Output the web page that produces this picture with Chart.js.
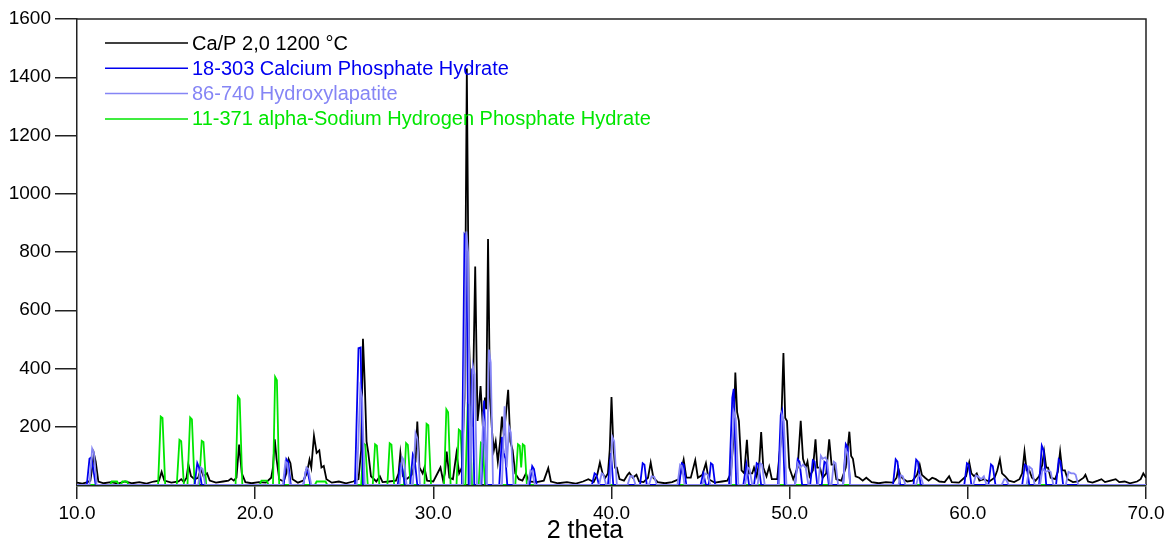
<!DOCTYPE html>
<html>
<head>
<meta charset="utf-8">
<script src="https://cdn.jsdelivr.net/npm/chart.js@4/dist/chart.umd.min.js"></script>
<style>
  html, body { margin: 0; padding: 0; background: #fff; }
  #wrap { width: 1169px; height: 542px; }
</style>
</head>
<body>
<div id="wrap"><canvas id="xrd"></canvas></div>
<script>
// [2 theta, counts]
var sampleScan = [[10.0,8],[10.3,5],[10.6,10],[10.75,15],[10.88,70],[10.95,107],[11.05,80],[11.2,12],[11.5,6],[11.9,10],[12.3,5],[12.7,12],[13.1,6],[13.5,10],[13.9,5],[14.3,12],[14.6,15],[14.75,45],[14.9,15],[15.3,8],[15.7,12],[15.85,20],[16.0,10],[16.15,25],[16.25,71],[16.4,30],[16.6,20],[16.8,25],[16.95,55],[17.1,30],[17.3,40],[17.45,15],[17.8,8],[18.2,12],[18.5,15],[18.65,22],[18.8,15],[18.95,25],[19.1,139],[19.25,40],[19.45,10],[19.8,6],[20.2,10],[20.6,8],[20.9,25],[21.0,60],[21.1,157],[21.2,90],[21.35,20],[21.6,12],[21.75,40],[21.88,89],[21.98,75],[22.1,20],[22.4,8],[22.7,15],[22.9,40],[23.05,87],[23.15,60],[23.3,169],[23.45,110],[23.6,119],[23.72,60],[23.85,65],[24.0,20],[24.3,8],[24.7,12],[25.1,6],[25.5,12],[25.8,20],[25.95,120],[26.05,502],[26.15,350],[26.25,150],[26.35,110],[26.5,30],[26.8,12],[27.0,30],[27.15,10],[27.5,12],[27.9,15],[28.05,40],[28.15,110],[28.3,30],[28.5,20],[28.8,35],[28.9,60],[29.0,80],[29.1,218],[29.22,60],[29.4,40],[29.5,60],[29.65,15],[30.0,12],[30.4,60],[30.55,15],[30.65,40],[30.75,115],[30.9,25],[31.1,20],[31.3,110],[31.45,40],[31.6,60],[31.75,300],[31.88,1430],[32.0,500],[32.15,200],[32.25,400],[32.35,750],[32.48,220],[32.55,260],[32.65,340],[32.78,200],[32.9,300],[32.97,260],[33.07,845],[33.18,300],[33.3,180],[33.4,120],[33.5,150],[33.62,80],[33.75,150],[33.85,235],[33.96,170],[34.1,260],[34.2,327],[34.32,150],[34.45,120],[34.6,40],[34.8,20],[35.0,15],[35.2,40],[35.35,12],[35.8,10],[36.2,15],[36.45,58],[36.6,12],[37.0,6],[37.5,10],[38.0,5],[38.4,12],[38.7,20],[39.0,10],[39.2,35],[39.35,77],[39.5,40],[39.65,25],[39.8,40],[39.9,120],[40.0,302],[40.1,140],[40.2,60],[40.3,60],[40.45,20],[40.7,15],[40.9,35],[41.0,42],[41.2,25],[41.4,35],[41.55,12],[41.8,10],[42.05,25],[42.2,77],[42.35,25],[42.6,10],[43.0,6],[43.4,10],[43.8,20],[43.95,60],[44.05,87],[44.2,25],[44.45,25],[44.7,85],[44.85,25],[45.1,35],[45.3,75],[45.45,20],[45.8,8],[46.2,12],[46.5,15],[46.7,40],[46.85,160],[46.95,386],[47.05,250],[47.15,220],[47.3,50],[47.45,40],[47.6,155],[47.72,40],[47.9,40],[48.0,60],[48.15,30],[48.3,80],[48.4,182],[48.52,60],[48.7,30],[48.85,63],[49.0,20],[49.3,20],[49.5,150],[49.65,453],[49.75,230],[49.85,220],[49.98,60],[50.2,20],[50.45,60],[50.62,220],[50.75,90],[50.9,60],[51.0,80],[51.12,30],[51.3,50],[51.45,157],[51.55,60],[51.7,60],[51.85,25],[52.05,40],[52.22,157],[52.35,70],[52.5,70],[52.62,20],[52.9,15],[53.15,60],[53.35,183],[53.45,100],[53.55,90],[53.7,30],[53.9,25],[54.1,15],[54.3,25],[54.6,10],[55.0,6],[55.4,10],[55.8,8],[56.0,25],[56.1,57],[56.22,30],[56.4,20],[56.6,12],[56.9,15],[57.15,35],[57.3,69],[57.42,35],[57.6,25],[57.8,15],[58.0,25],[58.2,20],[58.4,12],[58.7,10],[58.95,30],[59.1,10],[59.5,8],[59.9,30],[60.08,78],[60.2,40],[60.35,30],[60.5,40],[60.65,15],[60.9,20],[61.2,12],[61.5,25],[61.65,50],[61.8,88],[61.92,40],[62.1,30],[62.3,15],[62.6,10],[62.9,20],[63.05,40],[63.18,115],[63.3,50],[63.45,50],[63.6,25],[63.8,15],[64.0,30],[64.15,60],[64.28,115],[64.4,60],[64.5,60],[64.65,25],[64.9,20],[65.05,45],[65.18,115],[65.3,50],[65.45,50],[65.6,20],[65.9,10],[66.2,12],[66.5,25],[66.6,35],[66.75,12],[67.0,8],[67.3,15],[67.5,20],[67.7,10],[68.0,15],[68.3,20],[68.5,10],[68.8,12],[69.1,6],[69.5,12],[69.7,20],[69.85,40],[70.0,25]];

var card18303 = [[10.0,0],[10.55,0],[10.7,90],[10.8,95],[10.9,60],[11.05,0],[16.6,0],[16.75,75],[16.85,60],[17.0,0],[21.6,0],[21.75,89],[21.85,80],[22.0,0],[22.7,0],[22.85,50],[22.95,45],[23.1,0],[25.6,0],[25.8,470],[25.92,472],[26.05,0],[28.0,0],[28.15,70],[28.25,60],[28.4,0],[28.7,0],[28.85,105],[28.95,90],[29.1,0],[31.6,0],[31.75,860],[31.85,850],[31.98,0],[32.05,0],[32.18,400],[32.3,0],[32.7,0],[32.85,290],[32.98,0],[33.7,0],[33.85,165],[33.95,110],[34.05,90],[34.15,0],[35.4,0],[35.55,65],[35.65,55],[35.8,0],[38.9,0],[39.05,40],[39.15,35],[39.3,0],[39.8,0],[39.97,110],[40.1,0],[41.6,0],[41.75,75],[41.85,70],[41.98,0],[43.8,0],[43.95,75],[44.05,70],[44.2,0],[45.0,0],[45.15,40],[45.3,0],[45.45,0],[45.58,75],[45.68,70],[45.82,0],[46.6,0],[46.78,300],[46.86,330],[47.0,0],[47.4,0],[47.57,70],[47.72,0],[48.0,0],[48.15,75],[48.25,70],[48.4,0],[49.35,0],[49.5,240],[49.58,255],[49.72,0],[50.3,0],[50.45,88],[50.55,80],[50.7,0],[51.15,0],[51.3,85],[51.4,80],[51.55,0],[51.8,0],[51.95,80],[52.05,75],[52.2,0],[53.0,0],[53.15,140],[53.25,130],[53.4,0],[55.8,0],[55.95,88],[56.05,80],[56.2,0],[56.95,0],[57.1,87],[57.2,80],[57.35,0],[59.8,0],[59.95,75],[60.05,70],[60.2,0],[61.15,0],[61.3,71],[61.4,65],[61.55,0],[63.05,0],[63.2,70],[63.3,65],[63.45,0],[64.0,0],[64.15,135],[64.25,120],[64.4,0],[64.95,0],[65.1,88],[65.2,80],[65.35,0],[70.0,0]];

var card86740 = [[10.0,0],[10.7,0],[10.85,125],[10.95,110],[11.1,0],[16.8,0],[16.95,60],[17.05,55],[17.2,0],[21.55,0],[21.7,80],[21.8,75],[21.95,0],[22.7,0],[22.88,60],[22.98,55],[23.15,0],[25.7,0],[25.9,330],[26.0,300],[26.15,0],[28.1,0],[28.25,95],[28.35,85],[28.5,0],[28.85,0],[29.0,178],[29.1,160],[29.25,0],[31.65,0],[31.85,870],[31.95,800],[32.08,0],[32.1,0],[32.22,410],[32.32,380],[32.45,0],[32.65,0],[32.8,230],[32.9,200],[33.0,0],[33.12,465],[33.22,420],[33.35,0],[33.85,0],[34.0,270],[34.12,60],[34.25,200],[34.35,180],[34.5,0],[35.3,0],[35.45,50],[35.55,45],[35.7,0],[39.3,0],[39.45,40],[39.55,35],[39.7,0],[39.9,0],[40.05,165],[40.15,150],[40.3,0],[40.9,0],[41.05,30],[41.2,30],[41.35,0],[42.1,0],[42.25,30],[42.4,28],[42.55,0],[43.7,0],[43.85,70],[43.95,65],[44.1,0],[45.1,0],[45.25,40],[45.4,35],[45.55,0],[46.7,0],[46.87,250],[46.97,230],[47.12,0],[47.5,0],[47.65,60],[47.75,55],[47.9,0],[48.2,0],[48.35,75],[48.45,70],[48.6,0],[49.4,0],[49.57,240],[49.67,220],[49.82,0],[50.3,0],[50.45,75],[50.6,60],[50.75,70],[50.9,60],[51.05,0],[51.6,0],[51.75,100],[51.85,90],[52.0,95],[52.1,85],[52.25,0],[52.35,0],[52.48,80],[52.58,75],[52.72,0],[53.0,0],[53.15,120],[53.25,110],[53.4,0],[56.1,0],[56.25,34],[56.35,30],[56.5,0],[57.1,0],[57.25,35],[57.35,30],[57.5,0],[60.3,0],[60.45,33],[60.6,28],[60.75,20],[60.9,30],[61.05,0],[61.9,0],[62.05,20],[62.15,18],[62.3,0],[63.3,0],[63.45,63],[63.6,55],[63.75,0],[64.05,0],[64.2,57],[64.35,45],[64.55,50],[64.65,45],[64.8,0],[65.5,0],[65.65,45],[65.8,40],[65.95,40],[66.05,35],[66.2,0],[70.0,0]];

var card11371 = [[10.0,0],[11.85,0],[11.95,12],[12.25,12],[12.35,0],[12.45,0],[12.55,12],[12.8,12],[12.9,0],[14.55,0],[14.7,235],[14.8,230],[14.95,0],[15.6,0],[15.75,155],[15.85,150],[16.0,0],[16.2,0],[16.35,232],[16.45,225],[16.6,0],[16.85,0],[17.0,152],[17.1,148],[17.25,0],[18.9,0],[19.03,304],[19.13,295],[19.28,0],[20.25,0],[20.35,15],[20.65,15],[20.75,0],[21.0,0],[21.12,371],[21.22,360],[21.35,0],[23.35,0],[23.45,12],[23.95,12],[24.05,0],[25.95,0],[26.08,143],[26.18,138],[26.32,0],[26.6,0],[26.73,140],[26.83,135],[26.97,0],[27.42,0],[27.55,143],[27.65,138],[27.8,0],[28.35,0],[28.47,144],[28.57,138],[28.72,0],[29.5,0],[29.62,210],[29.72,205],[29.87,0],[30.6,0],[30.73,260],[30.83,250],[30.97,0],[31.3,0],[31.43,190],[31.53,185],[31.67,0],[31.8,0],[31.93,277],[32.03,270],[32.17,0],[32.55,0],[32.67,145],[32.77,140],[32.9,0],[34.6,0],[34.75,140],[34.85,135],[34.93,60],[35.02,140],[35.12,135],[35.25,0],[70.0,0]];

var names = ["Ca/P 2,0 1200 \u00b0C", "18-303 Calcium Phosphate Hydrate", "86-740 Hydroxylapatite", "11-371 alpha-Sodium Hydrogen Phosphate Hydrate"];
var colors = ["#000000", "#0000f0", "#8585f5", "#00e600"];
var thetaTicks = [10, 20, 30, 40, 50, 60, 70];
var countTicks = [200, 400, 600, 800, 1000, 1200, 1400, 1600];
var xTitle = "2 theta";

var FONT = "'Liberation Sans', Arial, sans-serif";

function toXY(pairs) {
  return pairs.map(function (p) { return { x: p[0], y: p[1] }; });
}

var scans = [sampleScan, card18303, card86740, card11371];
var drawOrder = [4, 2, 1, 3]; // higher = further back

var frame = {
  id: 'frame',
  beforeDatasetsDraw: function (chart) {
    var a = chart.chartArea, c = chart.ctx;
    c.save();
    c.strokeStyle = '#222';
    c.lineWidth = 1.5;
    c.beginPath();
    c.moveTo(a.left, a.top);
    c.lineTo(a.right, a.top);
    c.lineTo(a.right, a.bottom);
    c.stroke();
    c.restore();
  },
  afterDraw: function (chart) {
    var c = chart.ctx;
    c.save();
    c.font = '20px ' + FONT;
    c.textBaseline = 'middle';
    for (var i = 0; i < names.length; i++) {
      var y = 43 + i * 25.3;
      c.strokeStyle = colors[i];
      c.lineWidth = 1.5;
      c.beginPath();
      c.moveTo(105, y);
      c.lineTo(188, y);
      c.stroke();
      c.fillStyle = colors[i];
      c.fillText(names[i], 192, y + 1);
    }
    // axis title sits a bit left of centre in the original
    c.font = '25px ' + FONT;
    c.fillStyle = '#000';
    c.textAlign = 'center';
    c.textBaseline = 'alphabetic';
    c.fillText(xTitle, 585, 538);
    c.restore();
  }
};

new Chart(document.getElementById('xrd'), {
  type: 'line',
  data: {
    datasets: scans.map(function (s, i) {
      return {
        label: names[i],
        data: toXY(s),
        borderColor: colors[i],
        borderWidth: 1.8,
        pointRadius: 0,
        tension: 0,
        fill: false,
        order: drawOrder[i]
      };
    })
  },
  options: {
    responsive: true,
    maintainAspectRatio: false,
    animation: false,
    layout: { padding: { top: 19, right: 23, left: 0, bottom: 0 } },
    plugins: { legend: { display: false }, tooltip: { enabled: false } },
    scales: {
      x: {
        type: 'linear',
        min: 10, max: 70,
        afterFit: function (s) { s.height = 57; },
        afterBuildTicks: function (s) { s.ticks = thetaTicks.map(function (v) { return { value: v }; }); },
        ticks: {
          color: '#000', padding: 3,
          font: { family: FONT, size: 19 },
          callback: function (v) { return Number(v).toFixed(1); }
        },
        grid: { drawOnChartArea: false, drawTicks: true, tickLength: 14, color: '#222', lineWidth: 1.5 },
        border: { display: true, color: '#1a2a1a', width: 2.5 }
      },
      y: {
        min: 0, max: 1600,
        afterFit: function (s) { s.width = 77; },
        afterBuildTicks: function (s) { s.ticks = countTicks.map(function (v) { return { value: v }; }); },
        ticks: {
          color: '#000', padding: 4,
          font: { family: FONT, size: 19 },
          callback: function (v) { return String(v); }
        },
        grid: { drawOnChartArea: false, drawTicks: true, tickLength: 22, color: '#222', lineWidth: 1.5 },
        border: { display: true, color: '#222', width: 1.5 }
      }
    }
  },
  plugins: [frame]
});
</script>
</body>
</html>
